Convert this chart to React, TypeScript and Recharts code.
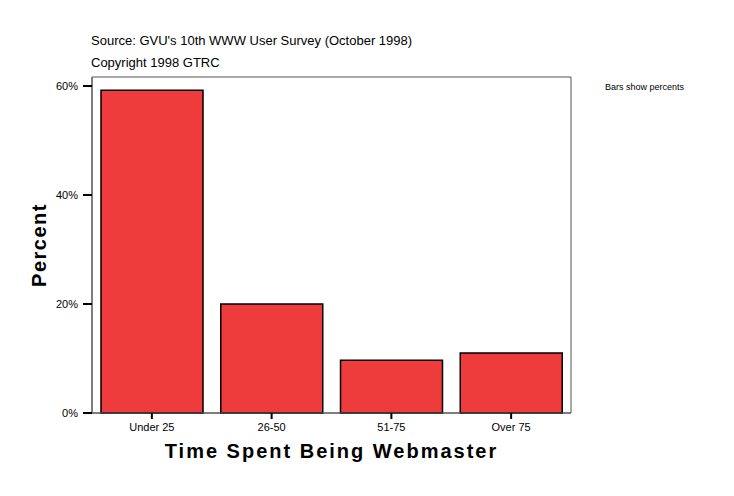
import React from 'react';
import {
  BarChart,
  Bar,
  XAxis,
  YAxis,
  ReferenceArea,
} from 'recharts';

const categories = ['Under 25', '26-50', '51-75', 'Over 75'];
const percents = [59.2, 20.0, 9.7, 11.0];
const yTicks = [0, 20, 40, 60];

const data = categories.map((name, i) => ({ name, value: percents[i] }));

const font = 'Arial, "Liberation Sans", sans-serif';

export default function App() {
  return (
    <div style={{ position: 'relative', width: 734, height: 496, background: '#fff', fontFamily: font }}>
      <style>{'body{margin:0}'}</style>
      <div style={{ position: 'absolute', left: 91, top: 33, fontSize: 13, color: '#000', whiteSpace: 'nowrap' }}>
        Source: GVU's 10th WWW User Survey (October 1998)
      </div>
      <div style={{ position: 'absolute', left: 91, top: 55, fontSize: 13, color: '#000', whiteSpace: 'nowrap' }}>
        Copyright 1998 GTRC
      </div>
      <div style={{ position: 'absolute', left: 605, top: 82, fontSize: 9, color: '#000', whiteSpace: 'nowrap' }}>
        Bars show percents
      </div>
      <BarChart
        width={734}
        height={496}
        data={data}
        margin={{ top: 77, right: 163, bottom: 0, left: 0 }}
        barSize={102}
      >
        <ReferenceArea y1={0} y2={61.65} fill="none" stroke="#555" strokeWidth={1} ifOverflow="visible" />
        <XAxis
          dataKey="name"
          height={83}
          interval={0}
          tickSize={6}
          tickMargin={4}
          axisLine={{ stroke: '#555' }}
          tickLine={{ stroke: '#000', strokeWidth: 2 }}
          tick={{ fontSize: 11, fill: '#000', fontFamily: font }}
          label={{
            value: 'Time Spent Being Webmaster',
            position: 'insideBottom',
            offset: 38,
            style: { fontSize: 20, fontWeight: 900, fill: '#000', fontFamily: font, letterSpacing: 2 },
          }}
        />
        <YAxis
          width={92}
          domain={[0, 61.65]}
          ticks={yTicks}
          tickFormatter={(v) => `${v}%`}
          tickSize={9}
          tickMargin={5}
          axisLine={{ stroke: '#555' }}
          tickLine={{ stroke: '#000', strokeWidth: 2 }}
          tick={{ fontSize: 11, fill: '#000', fontFamily: font }}
          label={{
            value: 'Percent',
            angle: -90,
            position: 'insideLeft',
            offset: 39,
            style: { fontSize: 20, fontWeight: 900, fill: '#000', fontFamily: font, letterSpacing: 1.5, textAnchor: 'middle' },
          }}
        />
        <Bar dataKey="value" fill="#EE3B3B" stroke="#000" strokeWidth={1.5} isAnimationActive={false} />
      </BarChart>
    </div>
  );
}
